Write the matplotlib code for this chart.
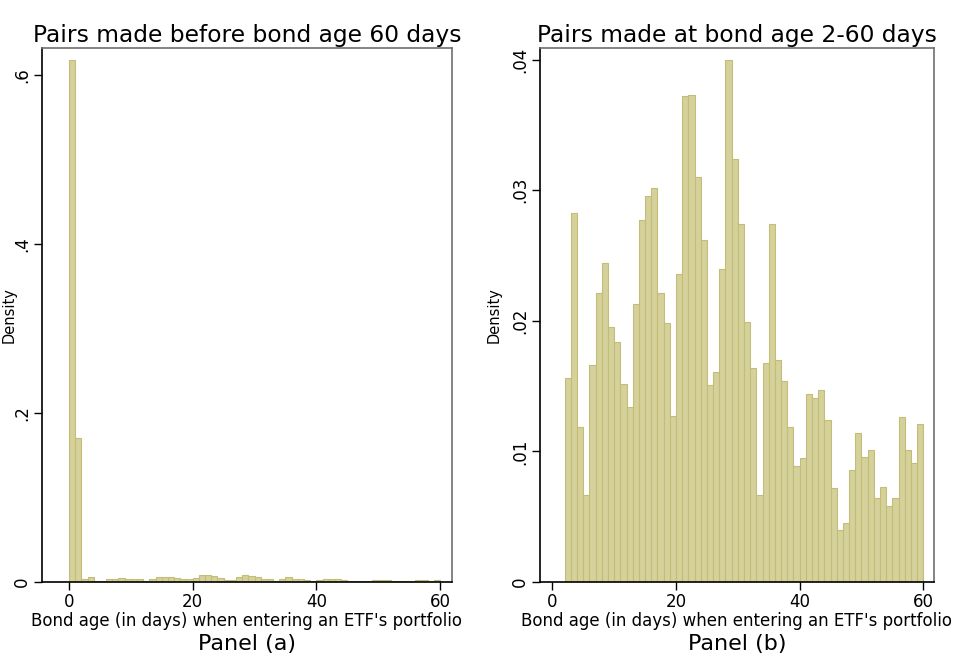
import numpy as np
import matplotlib
matplotlib.use("Agg")
import matplotlib.pyplot as plt

# --- data: histogram densities, bins of width 1 day ---
# Panel (a): bond age 0..59
edges_a = list(range(0, 60))
dens_a = [0.618, 0.170, 0.0032, 0.0063, 0.0016, 0.0010, 0.0030, 0.0040, 0.0050, 0.0040,
          0.0038, 0.0032, 0.0016, 0.0035, 0.0063, 0.0063, 0.0063, 0.0043, 0.0032, 0.0030,
          0.0047, 0.0087, 0.0087, 0.0067, 0.0050, 0.0028, 0.0028, 0.0055, 0.0087, 0.0070,
          0.0063, 0.0040, 0.0032, 0.0012, 0.0032, 0.0060, 0.0032, 0.0032, 0.0024, 0.0016,
          0.0024, 0.0030, 0.0030, 0.0030, 0.0024, 0.0012, 0.0012, 0.0012, 0.0012, 0.0024,
          0.0024, 0.0024, 0.0010, 0.0010, 0.0010, 0.0010, 0.0024, 0.0024, 0.0016, 0.0024]

# Panel (b): bond age 2..59
edges_b = list(range(2, 60))
dens_b = [0.0156, 0.0283, 0.0119, 0.0067, 0.0166, 0.0221, 0.0244, 0.0195, 0.0184, 0.0152,
          0.0134, 0.0213, 0.0277, 0.0296, 0.0302, 0.0221, 0.0198, 0.0127, 0.0236, 0.0372,
          0.0373, 0.0310, 0.0262, 0.0151, 0.0161, 0.0240, 0.0400, 0.0324, 0.0274, 0.0199,
          0.0164, 0.0067, 0.0168, 0.0274, 0.0170, 0.0154, 0.0119, 0.0089, 0.0095, 0.0144,
          0.0141, 0.0147, 0.0124, 0.0072, 0.0040, 0.0045, 0.0086, 0.0114, 0.0096, 0.0101,
          0.0064, 0.0073, 0.0058, 0.0064, 0.0126, 0.0101, 0.0091, 0.0121]

xticks = [0, 20, 40, 60]
yticks_a = [0, 0.2, 0.4, 0.6]
ylabels_a = ["0", ".2", ".4", ".6"]
yticks_b = [0, 0.01, 0.02, 0.03, 0.04]
ylabels_b = ["0", ".01", ".02", ".03", ".04"]

titles = ["Pairs made before bond age 60 days", "Pairs made at bond age 2-60 days"]
xlab = "Bond age (in days) when entering an ETF's portfolio"
panels = ["Panel (a)", "Panel (b)"]

FILL = "#d5d19a"
EDGE = "#c4bd78"

fig = plt.figure(figsize=(9.59, 6.63), dpi=100)
ax_a = fig.add_axes([0.0438, 0.1222, 0.4275, 0.8054])
ax_b = fig.add_axes([0.5631, 0.1222, 0.4108, 0.8054])

specs = [
    (ax_a, edges_a, dens_a, yticks_a, ylabels_a, (-4.37, 61.94), (0, 0.632), -0.061),
    (ax_b, edges_b, dens_b, yticks_b, ylabels_b, (-1.99, 61.73), (0, 0.0409), -0.097),
]

for i, (ax, ed, dn, yt, yl, xlim, ylim, ylx) in enumerate(specs):
    ax.bar(ed, dn, width=1.0, align="edge", color=FILL, edgecolor=EDGE, linewidth=0.8)
    ax.set_xlim(*xlim)
    ax.set_ylim(*ylim)
    ax.set_xticks(xticks)
    ax.set_xticklabels([str(t) for t in xticks], fontsize=12)
    ax.set_yticks(yt)
    ax.set_yticklabels(yl, fontsize=12, rotation=90, va="center")
    ax.tick_params(direction="out", length=6, width=1, color="black", pad=2)
    for side in ["top", "right"]:
        ax.spines[side].set_color("#6e6e6e")
        ax.spines[side].set_linewidth(1.2)
    for side in ["left", "bottom"]:
        ax.spines[side].set_color("black")
        ax.spines[side].set_linewidth(1.2)
    ax.set_ylabel("Density", fontsize=10.5)
    ax.yaxis.set_label_coords(ylx, 0.5)
    ax.set_xlabel(xlab, fontsize=12, labelpad=1)
    ax.set_title(titles[i], fontsize=16.8, pad=4)
    ax.text(0.5, -0.098, panels[i], transform=ax.transAxes, ha="center", va="top", fontsize=16)

plt.savefig("out.png", dpi=100)
